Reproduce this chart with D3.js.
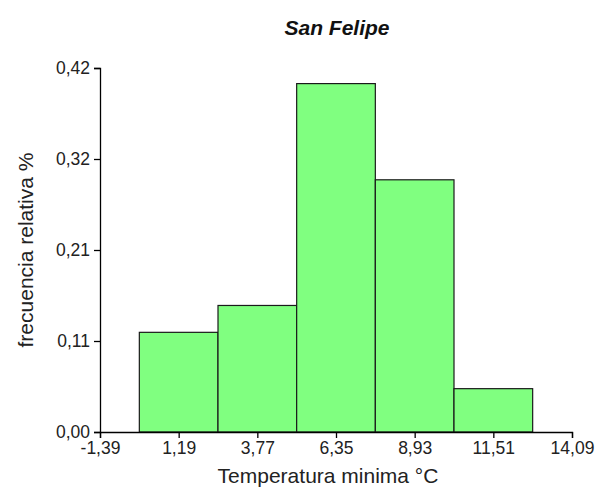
<!DOCTYPE html>
<html>
<head>
<meta charset="utf-8">
<script src="https://cdn.jsdelivr.net/npm/d3@7"></script>
<style>
  body { margin: 0; background: #fff; }
  svg { display: block; font-family: "Liberation Sans", Arial, sans-serif; }
</style>
</head>
<body>
<div id="chart"></div>
<script>
// histogram data
var binEdges = [-0.10, 2.48, 5.06, 7.64, 10.22, 12.80];
var relFreq = [0.115, 0.146, 0.402, 0.291, 0.050];

var xTicks = [-1.39, 1.19, 3.77, 6.35, 8.93, 11.51, 14.09];
var xTickLabels = ["-1,39", "1,19", "3,77", "6,35", "8,93", "11,51", "14,09"];
var yTicks = [0, 0.105, 0.21, 0.315, 0.42];
var yTickLabels = ["0,00", "0,11", "0,21", "0,32", "0,42"];

var svgWidth = 598;
var svgHeight = 488;
var plotLeft = 100, plotRight = 572, plotTop = 68, plotBottom = 432;

var svg = d3.select("#chart")
    .append("svg")
    .attr("width", svgWidth)
    .attr("height", svgHeight);

var xScale = d3.scaleLinear()
    .domain([xTicks[0], xTicks[xTicks.length - 1]])
    .range([plotLeft, plotRight]);
var yScale = d3.scaleLinear()
    .domain([0, 0.42])
    .range([plotBottom, plotTop]);

var bins = relFreq.map((v, i) => ({x0: binEdges[i], x1: binEdges[i + 1], v: v}));

svg.append("g").selectAll("rect")
    .data(bins)
    .enter()
    .append("rect")
    .attr("x", d => xScale(d.x0))
    .attr("y", d => yScale(d.v))
    .attr("width", d => xScale(d.x1) - xScale(d.x0))
    .attr("height", d => yScale(0) - yScale(d.v))
    .attr("fill", "#80ff80")
    .attr("stroke", "#1a1a1a")
    .attr("stroke-width", 1.2);

var xAxis = d3.axisBottom(xScale)
    .tickValues(xTicks)
    .tickFormat((d, i) => xTickLabels[i])
    .tickSizeOuter(0)
    .tickSize(6)
    .tickPadding(4);
var yAxis = d3.axisLeft(yScale)
    .tickValues(yTicks)
    .tickFormat((d, i) => yTickLabels[i])
    .tickSizeOuter(0)
    .tickSize(6)
    .tickPadding(4);

var xAxisGroup = svg.append("g")
    .attr("transform", `translate(0,${plotBottom})`)
    .call(xAxis);
var yAxisGroup = svg.append("g")
    .attr("transform", `translate(${plotLeft},0)`)
    .call(yAxis);

[xAxisGroup, yAxisGroup].forEach(g => {
    g.selectAll("path, line").attr("stroke", "#000").attr("stroke-width", 1.3);
    g.selectAll("text")
        .attr("font-size", "17.5px")
        .attr("fill", "#222")
        .attr("font-family", "Liberation Sans, Arial, sans-serif");
});

svg.append("text")
    .attr("x", 337)
    .attr("y", 35)
    .attr("text-anchor", "middle")
    .attr("font-size", "21px")
    .attr("font-weight", "bold")
    .attr("font-style", "italic")
    .attr("fill", "#111")
    .text("San Felipe");

svg.append("text")
    .attr("x", 328)
    .attr("y", 483)
    .attr("text-anchor", "middle")
    .attr("font-size", "21px")
    .attr("fill", "#222")
    .text("Temperatura minima °C");

svg.append("text")
    .attr("transform", "rotate(-90)")
    .attr("x", -250)
    .attr("y", 33)
    .attr("text-anchor", "middle")
    .attr("font-size", "21px")
    .attr("fill", "#222")
    .text("frecuencia relativa %");
</script>
</body>
</html>
